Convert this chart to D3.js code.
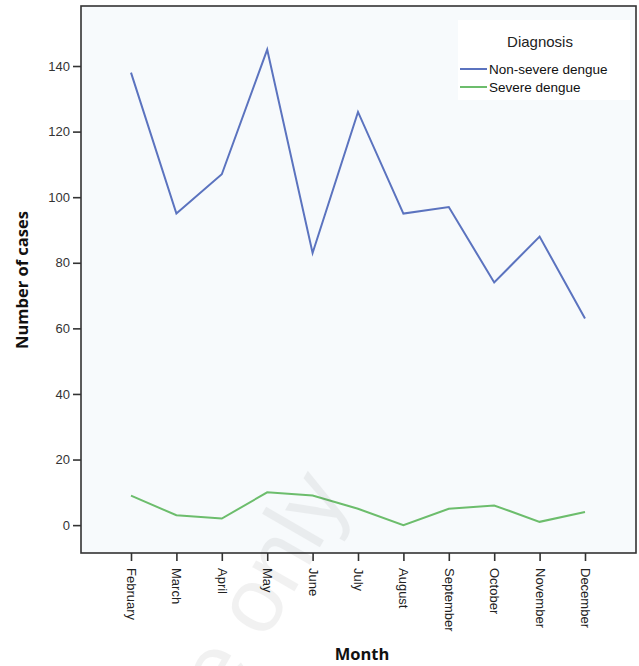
<!DOCTYPE html>
<html><head><meta charset="utf-8">
<script src="https://cdn.jsdelivr.net/npm/d3@7"></script>
<style>body{margin:0;background:#fff}svg{display:block}</style>
</head><body>
<svg id="chart" width="639" height="666"></svg>
<script>
const months = ["February","March","April","May","June","July","August","September","October","November","December"];
const nonSevere = [138,95,107,145,83,126,95,97,74,88,63];
const severe = [9,3,2,10,9,5,0,5,6,1,4];
const yTicks = [0,20,40,60,80,100,120,140];
const seriesNames = ["Non-severe dengue","Severe dengue"];
const seriesColors = ["#5b73bf","#6cbd6c"];

const svg = d3.select("#chart");
const L = 81, T = 6, R = 636, B = 553;

svg.append("rect").attr("x",L).attr("y",T).attr("width",R-L).attr("height",B-T)
  .attr("fill","#f7fafc");

const x = d3.scalePoint().domain(months).range([131,585]);
const y = d3.scaleLinear().domain([-8.5,158.3]).range([B,T]);

// legend box
const lg = svg.append("g");
lg.append("rect").attr("x",458).attr("y",20).attr("width",172).attr("height",80).attr("fill","#ffffff");
lg.append("text").attr("x",540).attr("y",47).attr("text-anchor","middle")
  .attr("font-family","Liberation Sans, Arial, sans-serif").attr("font-size",15).attr("fill","#222").text("Diagnosis");
seriesNames.forEach((n,i)=>{
  const yy = 69 + i*18;
  lg.append("line").attr("x1",460).attr("x2",487).attr("y1",yy).attr("y2",yy)
    .attr("stroke",seriesColors[i]).attr("stroke-width",2);
  lg.append("text").attr("x",489).attr("y",yy+4.5).attr("font-family","Liberation Sans, Arial, sans-serif")
    .attr("font-size",13.5).attr("fill","#111").text(n);
});

// lines
const line = d3.line().x((d,i)=>x(months[i])).y(d=>y(d));
[nonSevere, severe].forEach((s,i)=>{
  svg.append("path").datum(s).attr("d",line).attr("fill","none")
    .attr("stroke",seriesColors[i]).attr("stroke-width",2).attr("stroke-linejoin","miter");
});

// frame
svg.append("rect").attr("x",L).attr("y",T).attr("width",R-L).attr("height",B-T)
  .attr("fill","none").attr("stroke","#333").attr("stroke-width",1.6);

// y axis
const ya = svg.append("g").attr("transform",`translate(${L},0)`)
  .call(d3.axisLeft(y).tickValues(yTicks).tickSize(8).tickPadding(3).tickFormat(d3.format("d")));
ya.select(".domain").remove();
ya.selectAll(".tick line").attr("stroke","#333").attr("stroke-width",1.6);
ya.selectAll(".tick text").attr("font-family","Liberation Sans, Arial, sans-serif").attr("font-size",13).attr("fill","#333");

// x axis
const xa = svg.append("g").attr("transform",`translate(0,${B})`)
  .call(d3.axisBottom(x).tickSize(8).tickPadding(6));
xa.select(".domain").remove();
xa.selectAll(".tick line").attr("stroke","#333").attr("stroke-width",1.6);
xa.selectAll(".tick text").attr("font-family","Liberation Sans, Arial, sans-serif").attr("font-size",13).attr("fill","#222")
  .attr("transform","rotate(90)").attr("text-anchor","start").attr("dy","0.35em").attr("x",15).attr("y",0);

// titles
svg.append("text").attr("transform","translate(28,280) rotate(-90)").attr("text-anchor","middle")
  .attr("font-family","Open Sans, sans-serif").attr("font-weight","bold").attr("font-size",16.5).attr("fill","#111").text("Number of cases");
svg.append("text").attr("x",362).attr("y",660).attr("text-anchor","middle")
  .attr("font-family","Open Sans, sans-serif").attr("font-weight","bold").attr("font-size",16.5).attr("fill","#111").text("Month");

// watermark
svg.append("text").attr("transform","translate(350,495) rotate(-60)").attr("text-anchor","end")
  .attr("font-family","Liberation Sans, Arial, sans-serif").attr("font-size",92).attr("fill","#000").attr("opacity",0.05)
  .text("Sample only");
</script>
</body></html>
